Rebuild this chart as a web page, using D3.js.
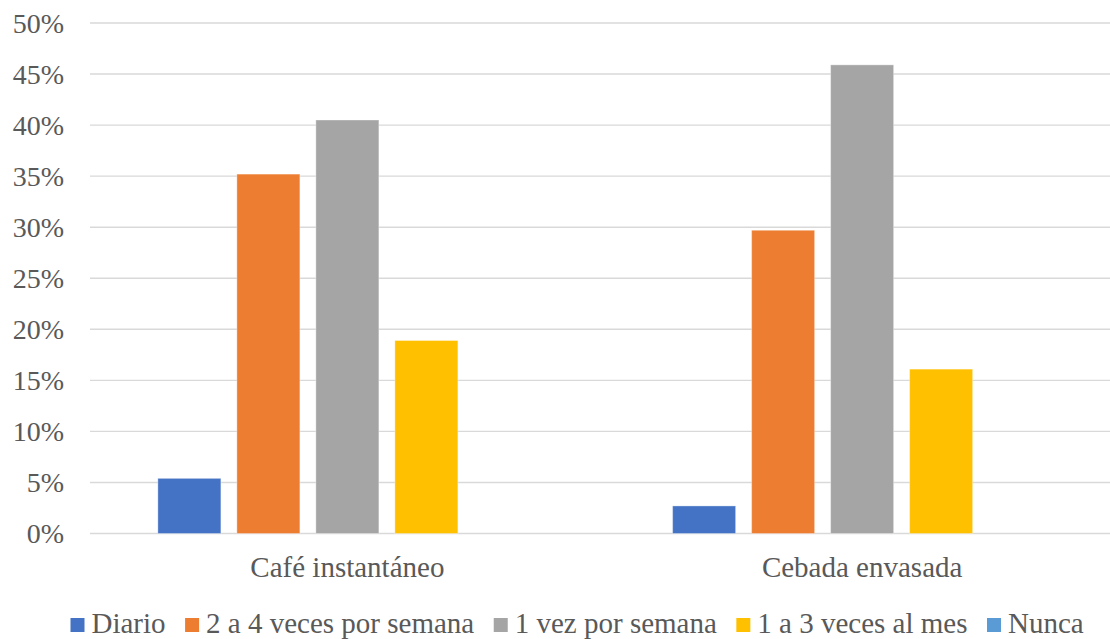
<!DOCTYPE html>
<html>
<head>
<meta charset="utf-8">
<script src="https://cdn.jsdelivr.net/npm/d3@7"></script>
<style>
  html, body { margin: 0; padding: 0; background: #fff; }
  svg { display: block; }
  .serif-label { font-family: "Liberation Serif", "Tinos", "Nimbus Roman", "Nimbus Roman No9 L", "FreeSerif", "DejaVu Serif", serif; }
</style>
</head>
<body>
<svg id="chart" width="1110" height="639"></svg>
<script>
// Frequency of consumption by product
const categories = ["Café instantáneo", "Cebada envasada"];
const series = ["Diario", "2 a 4 veces por semana", "1 vez por semana", "1 a 3 veces al mes", "Nunca"];
const colors = ["#4472C4", "#ED7D31", "#A5A5A5", "#FFC000", "#5B9BD5"];
const cafeValues = [0.054, 0.352, 0.405, 0.189, 0.0];
const cebadaValues = [0.027, 0.297, 0.459, 0.161, 0.0];
const yTicks = [0, 0.05, 0.10, 0.15, 0.20, 0.25, 0.30, 0.35, 0.40, 0.45, 0.50];

const valuesByCategory = [cafeValues, cebadaValues];
const TEXT_COLOR = "#595959";

const svg = d3.select("#chart");
const plot = { left: 90, right: 1119.5, top: 23, bottom: 533.5 };

const y = d3.scaleLinear().domain([0, 0.5]).range([plot.bottom, plot.top]);
const x0 = d3.scaleBand().domain(categories).range([plot.left, plot.right]).padding(0);
const x1 = d3.scaleBand().domain(series).range([0, x0.bandwidth()])
  .paddingInner(0.2025).paddingOuter(0.859);

// Horizontal gridlines
svg.append("g")
  .selectAll("line")
  .data(yTicks)
  .join("line")
  .attr("x1", plot.left)
  .attr("x2", 1110)
  .attr("y1", d => y(d))
  .attr("y2", d => y(d))
  .attr("stroke", "#D9D9D9")
  .attr("stroke-width", 1.4);

// Y axis labels
const yAxis = d3.axisLeft(y).tickValues(yTicks).tickFormat(d3.format(".0%")).tickSize(0).tickPadding(0);
const yg = svg.append("g").attr("transform", "translate(64,0)").call(yAxis);
yg.select(".domain").remove();
yg.attr("font-family", null).attr("font-size", null);
yg.selectAll("text")
  .attr("class", "serif-label")
  .attr("font-size", 28)
  .attr("fill", TEXT_COLOR)
  .attr("dy", "0.33em");

// Bars
const groups = svg.append("g")
  .selectAll("g")
  .data(categories.map((c, i) => ({ cat: c, vals: valuesByCategory[i] })))
  .join("g")
  .attr("transform", d => `translate(${x0(d.cat)},0)`);

groups.selectAll("rect")
  .data(d => d.vals.map((v, j) => ({ key: series[j], value: v, color: colors[j] })))
  .join("rect")
  .filter(d => d.value > 0)
  .attr("x", d => x1(d.key))
  .attr("width", x1.bandwidth())
  .attr("y", d => y(d.value))
  .attr("height", d => y(0) - y(d.value))
  .attr("fill", d => d.color)
  .attr("stroke", "#ffffff")
  .attr("stroke-opacity", 0.35)
  .attr("stroke-width", 1);

// Category axis labels
const xAxis = d3.axisBottom(x0).tickSize(0).tickPadding(0);
const xg = svg.append("g").attr("transform", "translate(0,577)").call(xAxis);
xg.select(".domain").remove();
xg.attr("font-family", null).attr("font-size", null);
xg.selectAll("text")
  .attr("class", "serif-label")
  .attr("font-size", 29)
  .attr("fill", TEXT_COLOR)
  .attr("dy", 0)
  .attr("y", 0);

// Legend
const legend = svg.append("g").attr("transform", "translate(70.5,0)");
let cursor = 0;
series.forEach((s, i) => {
  const item = legend.append("g").attr("transform", `translate(${cursor},0)`);
  item.append("rect")
    .attr("x", 0).attr("y", 618)
    .attr("width", 14).attr("height", 14)
    .attr("fill", colors[i]);
  const t = item.append("text")
    .attr("class", "serif-label")
    .attr("x", 21).attr("y", 633)
    .attr("font-size", 29)
    .attr("fill", TEXT_COLOR)
    .text(s);
  cursor += 21 + t.node().getComputedTextLength() + 19.5;
});
</script>
</body>
</html>
